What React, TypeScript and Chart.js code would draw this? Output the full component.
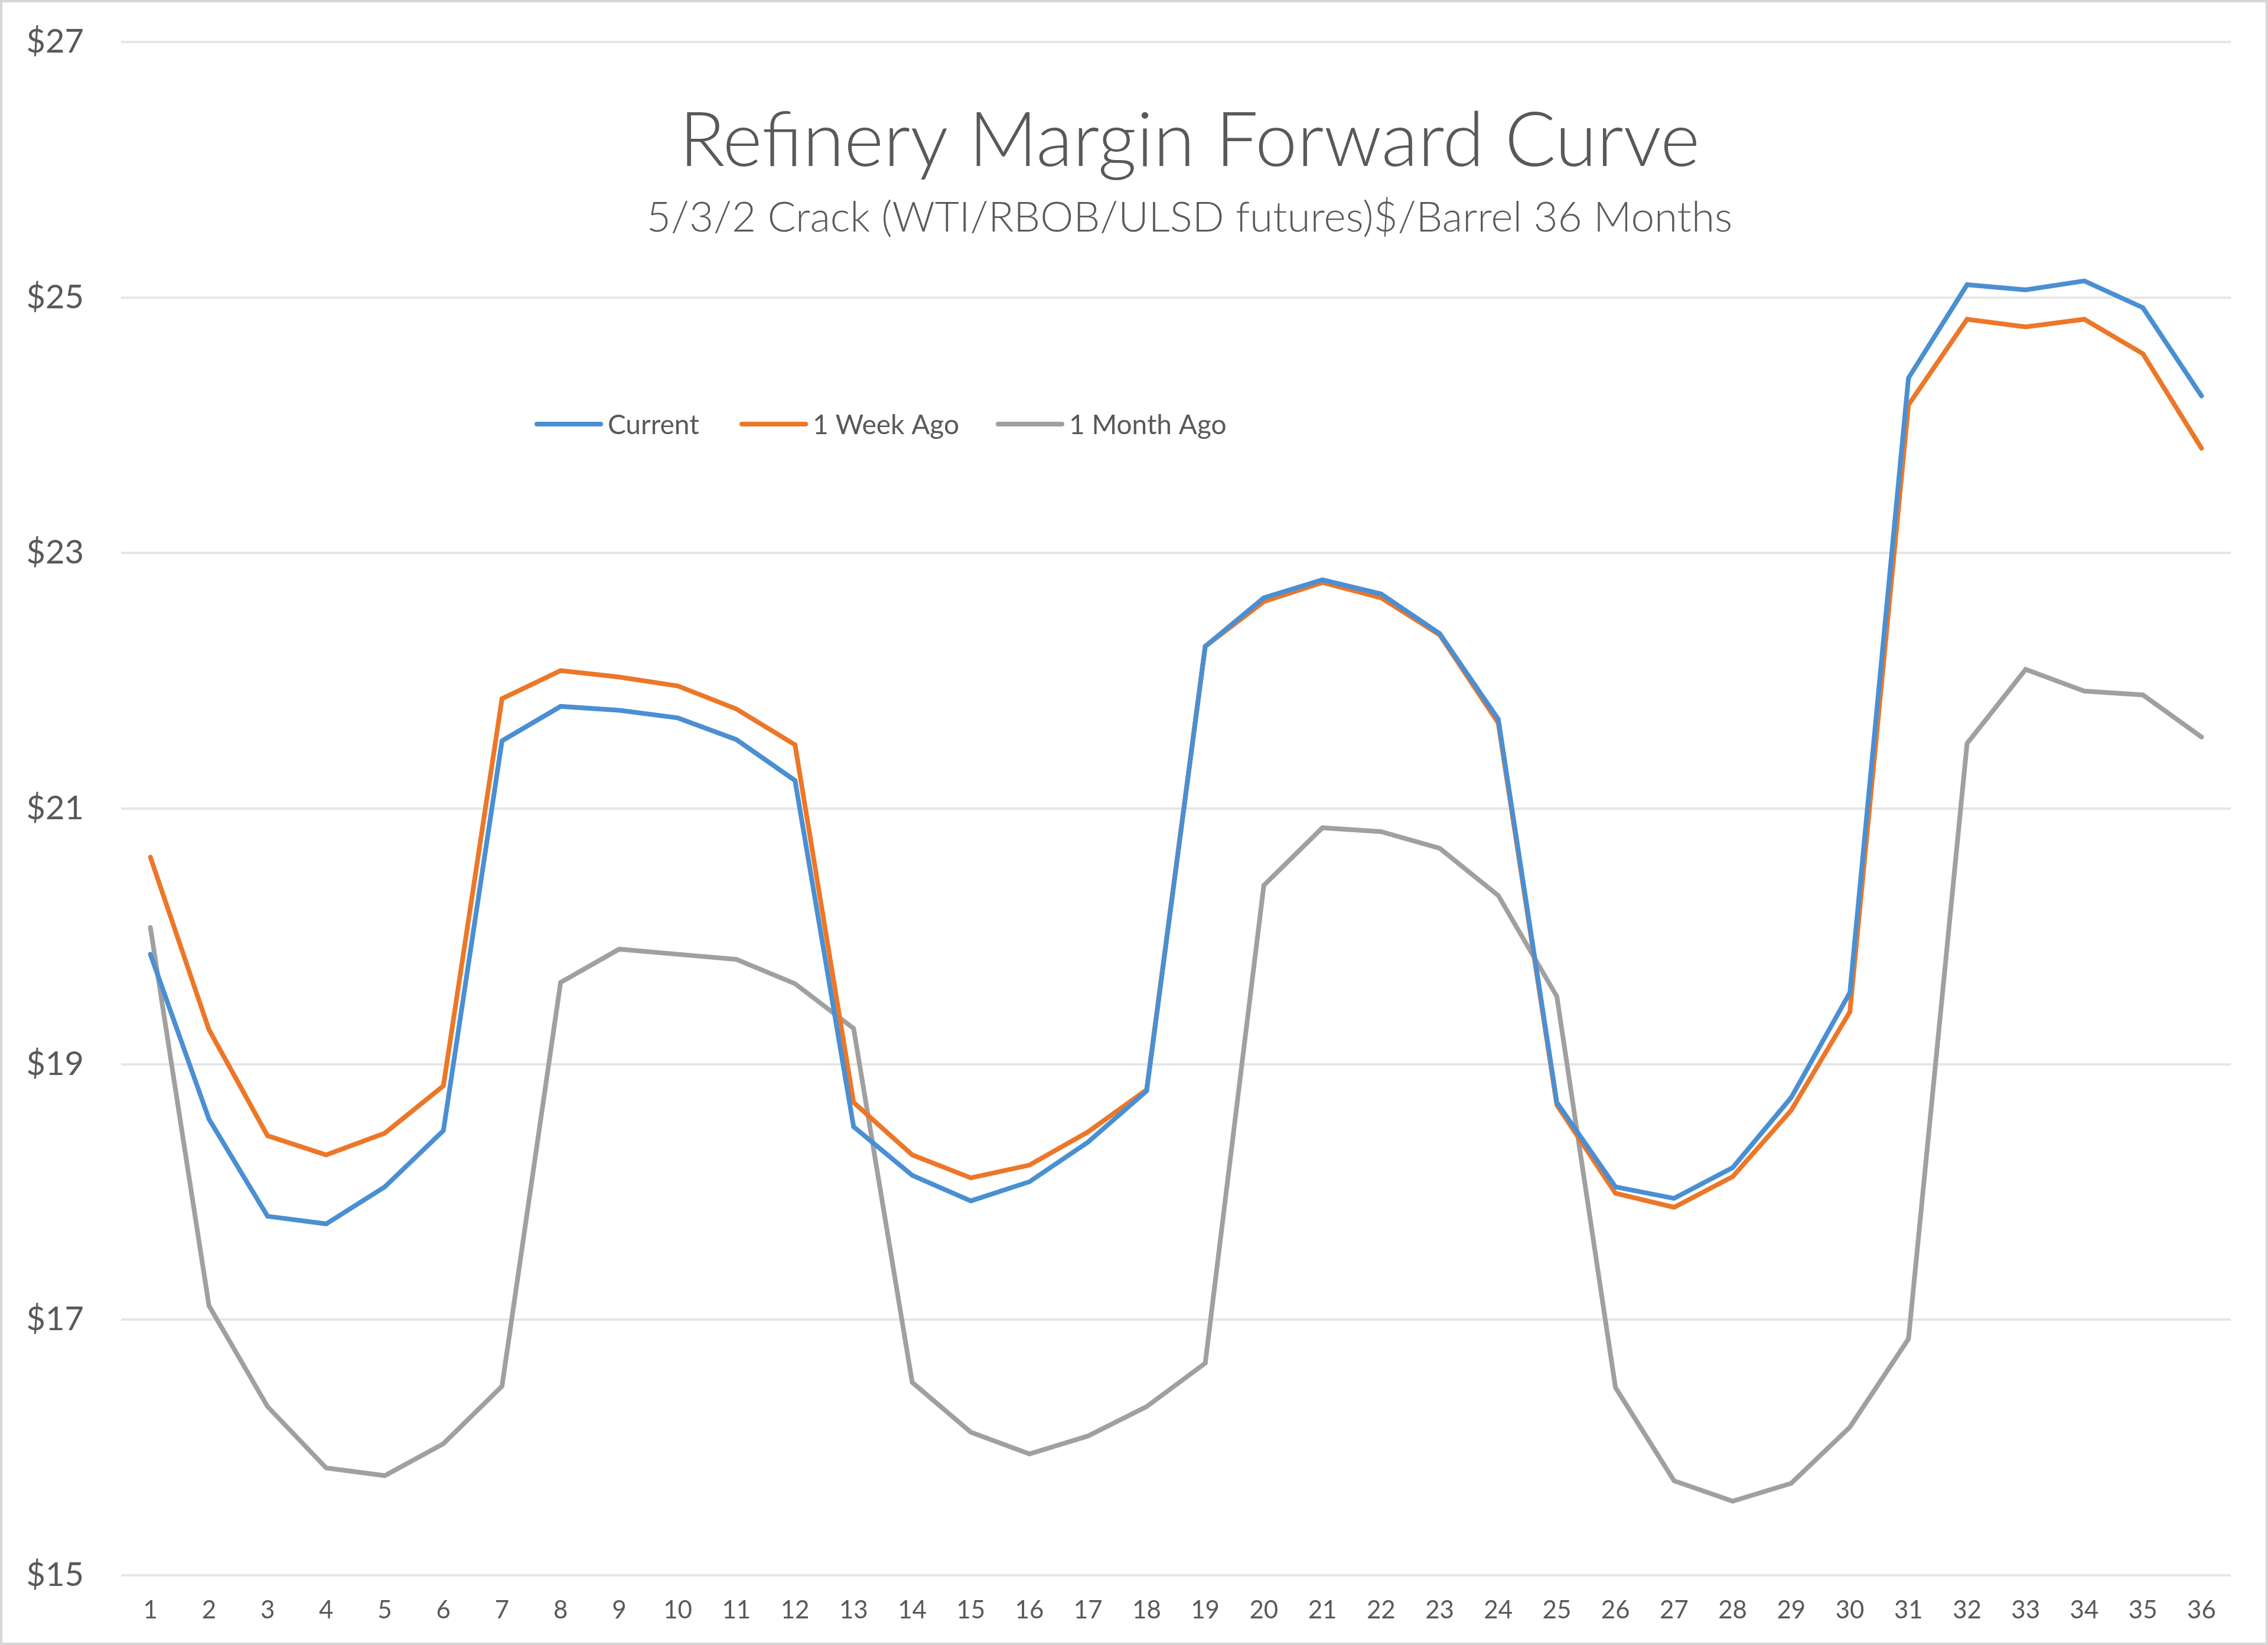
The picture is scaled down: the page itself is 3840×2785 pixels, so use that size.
import React, { useEffect, useRef } from "react";
import { Chart, registerables } from "chart.js";

Chart.register(...registerables);

const months = ["1","2","3","4","5","6","7","8","9","10","11","12","13","14","15","16","17","18","19","20","21","22","23","24","25","26","27","28","29","30","31","32","33","34","35","36"];

const current = [19.86, 18.57, 17.81, 17.75, 18.04, 18.48, 21.53, 21.80, 21.77, 21.71, 21.54, 21.22, 18.51, 18.13, 17.93, 18.08, 18.39, 18.79, 22.27, 22.65, 22.79, 22.68, 22.37, 21.70, 18.70, 18.04, 17.95, 18.19, 18.74, 19.56, 24.37, 25.10, 25.06, 25.13, 24.92, 24.23];

const weekAgo = [20.62, 19.27, 18.44, 18.29, 18.46, 18.83, 21.86, 22.08, 22.03, 21.96, 21.78, 21.50, 18.70, 18.29, 18.11, 18.21, 18.47, 18.80, 22.27, 22.62, 22.77, 22.65, 22.36, 21.67, 18.68, 17.99, 17.88, 18.12, 18.64, 19.41, 24.16, 24.83, 24.77, 24.83, 24.56, 23.82];

const monthAgo = [20.07, 17.11, 16.32, 15.84, 15.78, 16.03, 16.48, 19.64, 19.90, 19.86, 19.82, 19.63, 19.28, 16.51, 16.12, 15.95, 16.09, 16.32, 16.66, 20.40, 20.85, 20.82, 20.69, 20.32, 19.53, 16.47, 15.74, 15.58, 15.72, 16.16, 16.85, 21.51, 22.09, 21.92, 21.89, 21.56];

const yTickValues = [15, 17, 19, 21, 23, 25, 27];
const seriesNames = ["Current", "1 Week Ago", "1 Month Ago"];
const seriesColors = ["#4A8FD3", "#EC7728", "#A0A0A0"];
const chartTitle = "Refinery Margin Forward Curve";
const chartSubtitle = "5/3/2 Crack (WTI/RBOB/ULSD futures)$/Barrel 36 Months";

const TEXT = "#595959";
const FONT = "Lato, 'Open Sans', sans-serif";

export default function App() {
  const ref = useRef<HTMLCanvasElement | null>(null);

  useEffect(() => {
    const canvas = ref.current;
    if (!canvas) return;

    const overlay = {
      id: "overlay",
      afterDraw(chart: any) {
        const ctx = chart.ctx;
        ctx.save();
        ctx.fillStyle = TEXT;
        ctx.textAlign = "center";
        ctx.textBaseline = "middle";
        ctx.font = `300 128px ${FONT}`;
        ctx.fillText(chartTitle, 2010, 236);
        ctx.font = `300 71px ${FONT}`;
        ctx.fillText(chartSubtitle, 2010, 365);

        // legend
        const starts = [905, 1252, 1686];
        const ly = 714;
        ctx.font = `46px ${FONT}`;
        ctx.textAlign = "left";
        chart.data.datasets.forEach((ds: any, i: number) => {
          const x = starts[i];
          ctx.strokeStyle = ds.borderColor;
          ctx.lineWidth = 8;
          ctx.lineCap = "round";
          ctx.beginPath();
          ctx.moveTo(x, ly);
          ctx.lineTo(x + 108, ly);
          ctx.stroke();
          ctx.fillStyle = TEXT;
          ctx.fillText(ds.label, x + 120, ly + 2);
        });
        ctx.restore();
      },
    };

    const chart = new Chart(canvas, {
      type: "line",
      data: {
        labels: months,
        datasets: [
          { label: seriesNames[0], data: current, borderColor: seriesColors[0], backgroundColor: seriesColors[0], order: 1 },
          { label: seriesNames[1], data: weekAgo, borderColor: seriesColors[1], backgroundColor: seriesColors[1], order: 2 },
          { label: seriesNames[2], data: monthAgo, borderColor: seriesColors[2], backgroundColor: seriesColors[2], order: 3 },
        ],
      },
      options: {
        responsive: false,
        animation: false,
        layout: { padding: { left: 0, right: 59, top: 67, bottom: 0 } },
        elements: {
          line: { borderWidth: 8, tension: 0, borderJoinStyle: "miter", borderCapStyle: "round" },
          point: { radius: 0, hoverRadius: 0 },
        },
        plugins: {
          legend: { display: false },
          title: { display: false },
          tooltip: { enabled: false },
        },
        scales: {
          x: {
            type: "category",
            offset: true,
            grid: { display: false, drawTicks: false },
            border: { display: false },
            ticks: { color: TEXT, font: { family: FONT, size: 42 }, padding: 34, maxRotation: 0, autoSkip: false },
            afterFit(scale: any) {
              scale.height = 114;
              scale.paddingLeft = 0;
              scale.paddingRight = 0;
            },
          },
          y: {
            min: 15,
            max: 27,
            grid: { color: "#E6E6E6", lineWidth: 4, drawTicks: false },
            border: { display: false },
            ticks: {
              color: TEXT,
              font: { family: FONT, size: 56 },
              padding: 63,
              callback: (v: any) => "$" + v,
            },
            afterBuildTicks(scale: any) { scale.ticks = yTickValues.map((v) => ({ value: v })); },
            afterFit(scale: any) {
              scale.width = 201;
              scale.paddingTop = 0;
              scale.paddingBottom = 0;
            },
          },
        },
      },
      plugins: [overlay],
    });
    return () => chart.destroy();
  }, []);

  return (
    <div
      style={{
        position: "fixed",
        left: 0,
        top: 0,
        width: 3840,
        height: 2785,
        boxSizing: "border-box",
        border: "4px solid #D6D6D6",
        background: "#FFFFFF",
        overflow: "hidden",
      }}
    >
      <canvas ref={ref} width={3832} height={2777} style={{ display: "block", width: 3832, height: 2777 }} />
    </div>
  );
}
